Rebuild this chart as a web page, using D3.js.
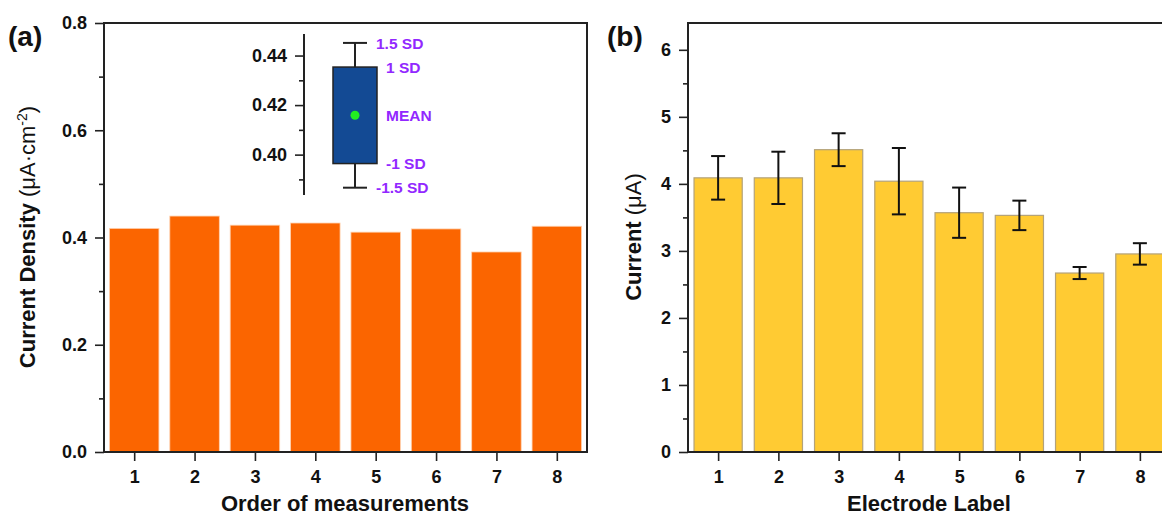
<!DOCTYPE html>
<html>
<head>
<meta charset="utf-8">
<script src="https://cdn.jsdelivr.net/npm/d3@7"></script>
<style>
  body { margin: 0; background: #fff; }
  svg { display: block; font-family: Arial, 'Liberation Sans', sans-serif; }
</style>
</head>
<body>
<div id="chart"></div>
<script>
// panel (a): repeated measurements on one electrode
const measurements = [1, 2, 3, 4, 5, 6, 7, 8];
const densities = [0.417, 0.440, 0.423, 0.427, 0.410, 0.416, 0.373, 0.421];
const densityTicks = [0, 0.2, 0.4, 0.6, 0.8];
const insetTicks = [0.40, 0.42, 0.44];
const insetLabels = ['1.5 SD', '1 SD', 'MEAN', '-1 SD', '-1.5 SD'];

// panel (b): eight electrodes, mean and error
const electrodes = [1, 2, 3, 4, 5, 6, 7, 8];
const currents = [4.09, 4.09, 4.51, 4.04, 3.57, 3.53, 2.67, 2.955];
const currentErrors = [0.325, 0.39, 0.245, 0.495, 0.375, 0.22, 0.09, 0.16];
const currentTicks = [0, 1, 2, 3, 4, 5, 6];

const W = 1162, H = 520;
const svg = d3.select('#chart').append('svg')
  .attr('width', W)
  .attr('height', H);

const plotTop = 23, plotBottom = 452;

// style helper for axis groups
const styleAxis = (g) => {
  g.select('.domain').remove();
  g.selectAll('line').attr('stroke', '#222').attr('stroke-width', 1.6);
  g.selectAll('text')
    .attr('fill', '#111')
    .style('font-size', '18px')
    .style('font-weight', 'bold');
};

const drawAxes = (x, y, xTicks, yTicks, yMinor, yFormat) => {
  svg.append('g')
    .attr('transform', 'translate(0,' + plotBottom + ')')
    .call(d3.axisBottom(x).tickValues(xTicks).tickSize(9).tickPadding(9).tickFormat(d3.format('d')))
    .call(styleAxis);

  svg.append('g')
    .attr('transform', 'translate(' + x.range()[0] + ',0)')
    .call(d3.axisLeft(y).tickValues(yTicks).tickSize(9).tickPadding(8).tickFormat(yFormat))
    .call(styleAxis);

  svg.append('g')
    .attr('transform', 'translate(' + x.range()[0] + ',0)')
    .call(d3.axisLeft(y).tickValues(yMinor).tickSize(5).tickFormat(''))
    .call(styleAxis);

  // frame
  svg.append('rect')
    .attr('x', x.range()[0])
    .attr('y', plotTop)
    .attr('width', x.range()[1] - x.range()[0])
    .attr('height', plotBottom - plotTop)
    .attr('fill', 'none')
    .attr('stroke', '#222')
    .attr('stroke-width', 2);
};

const addTitle = (xPos, yPos, rotate) => {
  const t = svg.append('text')
    .attr('text-anchor', 'middle')
    .attr('fill', '#111')
    .style('font-size', '22px');
  if (rotate) t.attr('transform', 'translate(' + xPos + ',' + yPos + ') rotate(-90)');
  else t.attr('x', xPos).attr('y', yPos);
  return t;
};

/* ---------- panel (a) ---------- */
const xa = d3.scaleLinear().domain([0.5, 8.5]).range([104, 587]);
const ya = d3.scaleLinear().domain([0, 0.8]).range([plotBottom, plotTop]);
const bwA = (xa(2) - xa(1)) * 0.82;

svg.append('g')
  .selectAll('rect')
  .data(densities)
  .enter()
  .append('rect')
  .attr('x', (d, i) => xa(measurements[i]) - bwA / 2)
  .attr('y', (d) => ya(d))
  .attr('width', bwA)
  .attr('height', (d) => ya(0) - ya(d))
  .attr('fill', '#fb6500')
  .attr('stroke', '#ffd2b0')
  .attr('stroke-width', 0.8);

drawAxes(xa, ya, measurements, densityTicks, [0.1, 0.3, 0.5, 0.7], d3.format('.1f'));

addTitle(345, 511, false)
  .style('font-weight', 'bold')
  .text('Order of measurements');

const yTitleA = addTitle(35, 237, true);
yTitleA.append('tspan').style('font-weight', 'bold').text('Current Density ');
yTitleA.append('tspan').text('(\u03bcA\u00b7cm');
yTitleA.append('tspan').attr('dy', -8).style('font-size', '14px').text('-2');
yTitleA.append('tspan').attr('dy', 8).text(')');

svg.append('text')
  .attr('x', 8).attr('y', 46)
  .attr('fill', '#111')
  .style('font-size', '28px')
  .style('font-weight', 'bold')
  .text('(a)');

// inset: mean and SD of the eight measurements
const mean = d3.mean(densities);
const sd = d3.deviation(densities);
const yi = d3.scaleLinear().domain([0.3837, 0.4487]).range([195, 34]);
const insetX = 304, boxX = 355;

svg.append('line')
  .attr('x1', insetX).attr('x2', insetX)
  .attr('y1', yi.range()[0]).attr('y2', yi.range()[1])
  .attr('stroke', '#222').attr('stroke-width', 2);

svg.append('g')
  .attr('transform', 'translate(' + insetX + ',0)')
  .call(d3.axisLeft(yi).tickValues(insetTicks).tickSize(9).tickPadding(8).tickFormat(d3.format('.2f')))
  .call(styleAxis);
svg.append('g')
  .attr('transform', 'translate(' + insetX + ',0)')
  .call(d3.axisLeft(yi).tickValues([0.39, 0.41, 0.43]).tickSize(5).tickFormat(''))
  .call(styleAxis);

const levels = [mean + 1.5 * sd, mean + sd, mean, mean - sd, mean - 1.5 * sd];

// whisker
svg.append('line')
  .attr('x1', boxX).attr('x2', boxX)
  .attr('y1', yi(levels[0])).attr('y2', yi(levels[4]))
  .attr('stroke', '#222').attr('stroke-width', 2);
svg.append('g')
  .selectAll('line')
  .data([levels[0], levels[4]])
  .enter()
  .append('line')
  .attr('x1', boxX - 12).attr('x2', boxX + 12)
  .attr('y1', (d) => yi(d)).attr('y2', (d) => yi(d))
  .attr('stroke', '#222').attr('stroke-width', 2);

svg.append('rect')
  .attr('x', boxX - 22)
  .attr('y', yi(levels[1]))
  .attr('width', 44)
  .attr('height', yi(levels[3]) - yi(levels[1]))
  .attr('fill', '#134a94')
  .attr('stroke', '#222')
  .attr('stroke-width', 1.5);

svg.append('circle')
  .attr('cx', boxX).attr('cy', yi(mean))
  .attr('r', 4.5)
  .attr('fill', '#22ee22');

svg.append('g')
  .selectAll('text')
  .data(insetLabels)
  .enter()
  .append('text')
  .attr('x', (d, i) => (i === 0 || i === 4) ? 376 : 386)
  .attr('y', (d, i) => yi(levels[i]))
  .attr('dy', '0.36em')
  .attr('fill', '#9228ff')
  .style('font-size', '15.5px')
  .style('font-weight', 'bold')
  .text((d) => d);

/* ---------- panel (b) ---------- */
const xb = d3.scaleLinear().domain([0.5, 8.5]).range([688, 1170]);
const yb = d3.scaleLinear().domain([0, 6.4]).range([plotBottom, plotTop]);
const bwB = (xb(2) - xb(1)) * 0.8;

svg.append('g')
  .selectAll('rect')
  .data(currents)
  .enter()
  .append('rect')
  .attr('x', (d, i) => xb(electrodes[i]) - bwB / 2)
  .attr('y', (d) => yb(d))
  .attr('width', bwB)
  .attr('height', (d) => yb(0) - yb(d))
  .attr('fill', '#ffcb33')
  .attr('stroke', '#b3a27a')
  .attr('stroke-width', 1.2);

drawAxes(xb, yb, electrodes, currentTicks, [0.5, 1.5, 2.5, 3.5, 4.5, 5.5], d3.format('d'));

// error bars
const errs = svg.append('g')
  .selectAll('g')
  .data(currents)
  .enter()
  .append('g')
  .attr('stroke', '#111')
  .attr('stroke-width', 2);
errs.append('line')
  .attr('x1', (d, i) => xb(electrodes[i])).attr('x2', (d, i) => xb(electrodes[i]))
  .attr('y1', (d, i) => yb(d + currentErrors[i])).attr('y2', (d, i) => yb(d - currentErrors[i]));
errs.append('line')
  .attr('x1', (d, i) => xb(electrodes[i]) - 7).attr('x2', (d, i) => xb(electrodes[i]) + 7)
  .attr('y1', (d, i) => yb(d + currentErrors[i])).attr('y2', (d, i) => yb(d + currentErrors[i]));
errs.append('line')
  .attr('x1', (d, i) => xb(electrodes[i]) - 7).attr('x2', (d, i) => xb(electrodes[i]) + 7)
  .attr('y1', (d, i) => yb(d - currentErrors[i])).attr('y2', (d, i) => yb(d - currentErrors[i]));

addTitle(929, 511, false)
  .style('font-weight', 'bold')
  .text('Electrode Label');

const yTitleB = addTitle(641, 237, true);
yTitleB.append('tspan').style('font-weight', 'bold').text('Current ');
yTitleB.append('tspan').text('(\u03bcA)');

svg.append('text')
  .attr('x', 607).attr('y', 46)
  .attr('fill', '#111')
  .style('font-size', '28px')
  .style('font-weight', 'bold')
  .text('(b)');
</script>
</body>
</html>
